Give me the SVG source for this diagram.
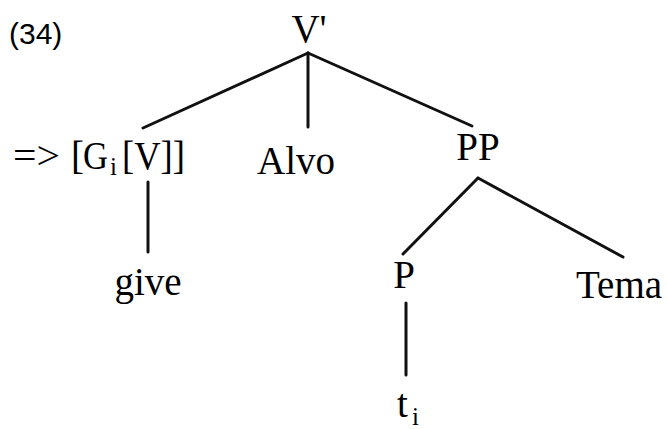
<svg xmlns="http://www.w3.org/2000/svg" width="667" height="429" viewBox="0 0 667 429">
<style>
.t{font-family:"Liberation Serif","Times New Roman",serif;font-size:39px;fill:#000}
.s{font-family:"Liberation Serif","Times New Roman",serif;font-size:25px;fill:#000}
.a{font-family:"Liberation Sans",Arial,sans-serif;font-size:30px;fill:#000}
.e{stroke:#111;stroke-width:3;stroke-linecap:round;fill:none}
</style>
<rect width="667" height="429" fill="#fff"/>
<text class="a" x="9" y="44">(34)</text>
<g id="edges">
<line class="e" x1="308" y1="53" x2="143" y2="128"/>
<line class="e" x1="308" y1="53" x2="308" y2="127"/>
<line class="e" x1="308" y1="53" x2="472" y2="126"/>
<line class="e" x1="148" y1="182" x2="148" y2="252"/>
<line class="e" x1="478" y1="178" x2="403" y2="254"/>
<line class="e" x1="478" y1="178" x2="623" y2="257"/>
<line class="e" x1="406" y1="303" x2="406" y2="375"/>
</g>
<g id="vbar"><text class="t" x="309" y="42" text-anchor="middle">V'</text></g>
<g id="gv">
<text class="t" x="13" y="169" textLength="47" lengthAdjust="spacingAndGlyphs">=&gt;</text>
<text class="t" x="71" y="169">[</text>
<text class="t" x="83" y="169" textLength="25" lengthAdjust="spacingAndGlyphs">G</text>
<text class="s" x="110" y="175">i</text>
<text class="t" x="122" y="169" textLength="63" lengthAdjust="spacingAndGlyphs">[V]]</text>
</g>
<g id="alvo"><text class="t" x="296" y="174" text-anchor="middle">Alvo</text></g>
<g id="pp"><text class="t" x="478" y="160" text-anchor="middle">PP</text></g>
<g id="give"><text class="t" x="148" y="295" text-anchor="middle">give</text></g>
<g id="p"><text class="t" x="404" y="288" text-anchor="middle">P</text></g>
<g id="tema"><text class="t" x="619" y="298" text-anchor="middle">Tema</text></g>
<g id="ti">
<text class="t" x="397" y="417">t</text>
<text class="s" x="412" y="425">i</text>
</g>
</svg>
